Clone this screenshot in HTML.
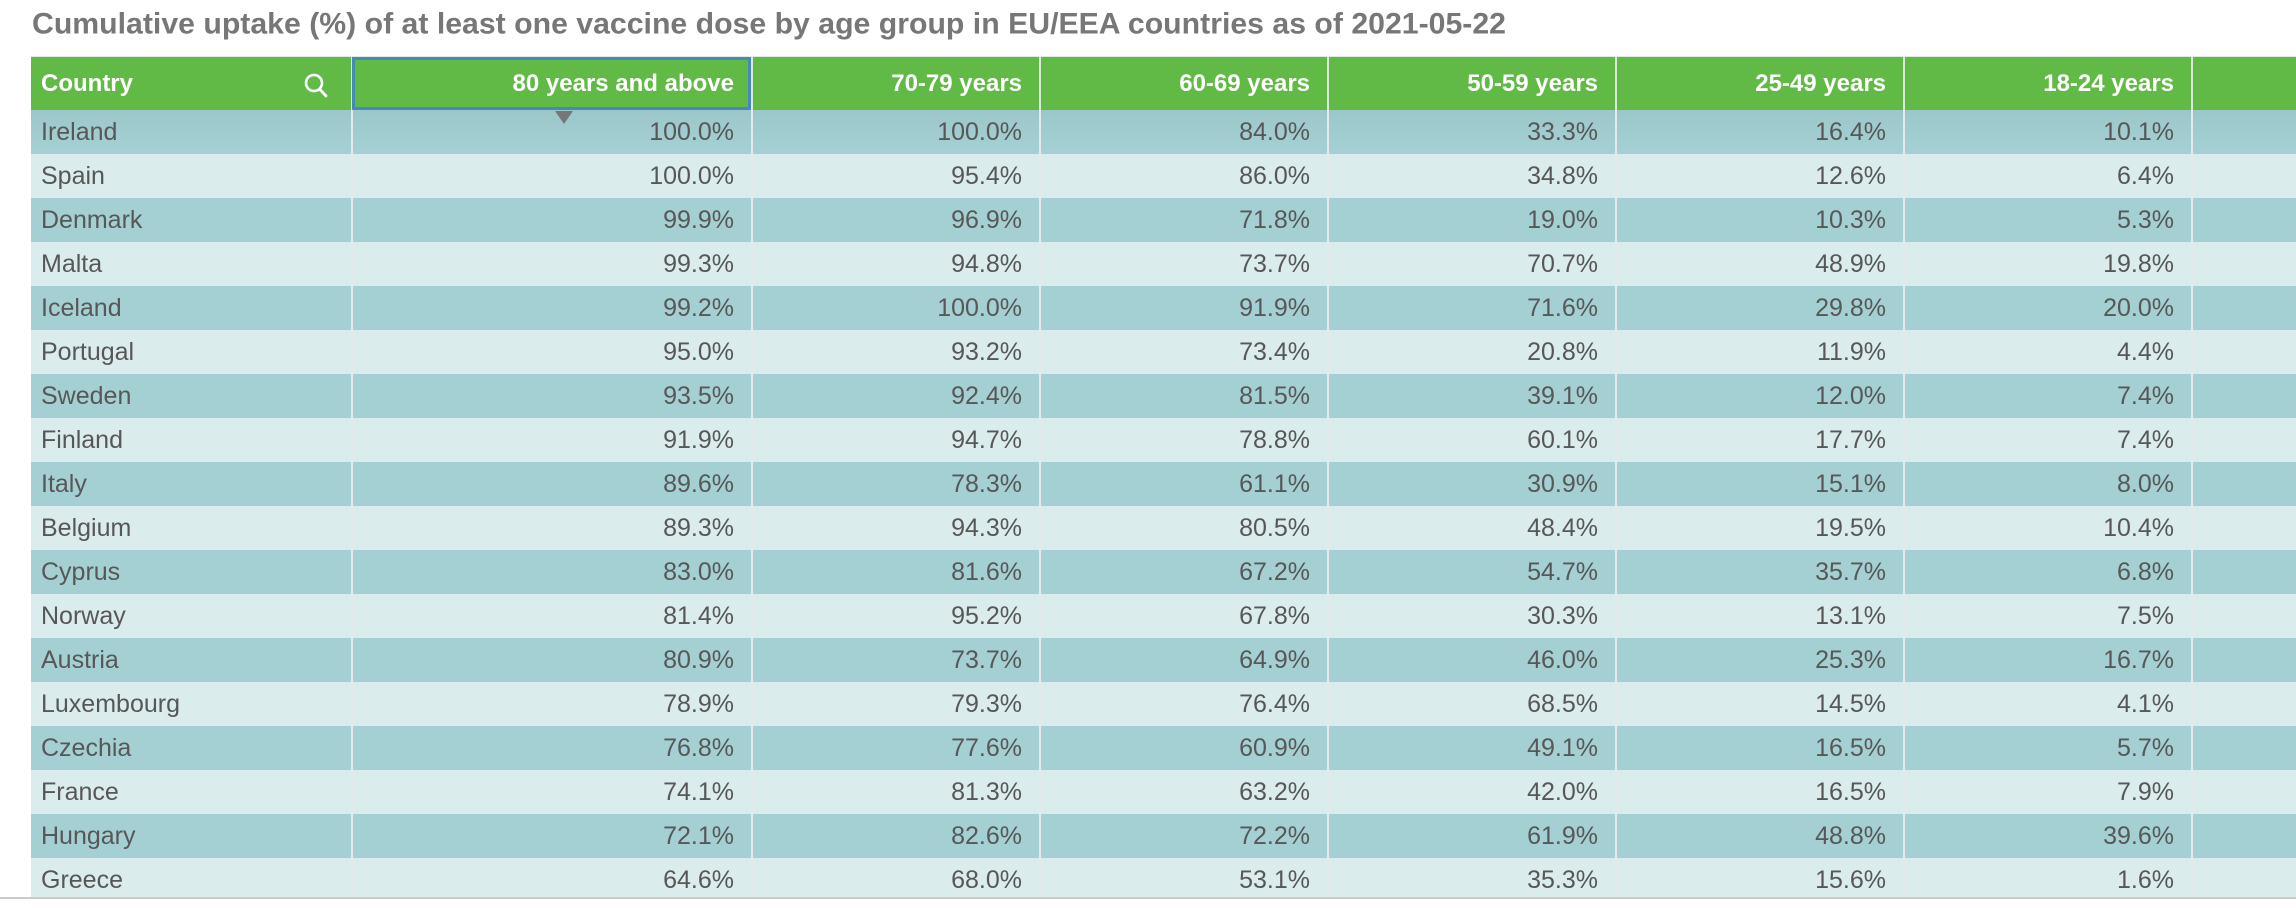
<!DOCTYPE html>
<html>
<head>
<meta charset="utf-8">
<style>
  html,body{margin:0;padding:0;background:#fff;}
  body{width:2296px;height:908px;position:relative;overflow:hidden;font-family:"Liberation Sans",Arial,sans-serif;}
  .title{position:absolute;left:0;top:0;}
  .wrap{position:absolute;left:31px;top:56px;width:2265px;height:841px;overflow:hidden;border-top:1px solid #e6e6e6;}
  .row{display:flex;height:44px;}
  .row > div{box-sizing:border-box;height:100%;border-left:2px solid #e4eaea;text-align:right;padding-right:17px;white-space:nowrap;overflow:hidden;}
  .row > div:first-child{border-left:none;text-align:left;padding-left:10px;padding-right:0;}
  .c0{width:320px;flex:none;}
  .c1{width:400px;flex:none;}
  .c2{width:288px;flex:none;}
  .c7{width:200px;flex:none;}
  .hdr{height:53px;background:#62ba46;color:#fff;font-weight:bold;font-size:24px;line-height:53px;}
  .hdr > div{border-left-color:#dfe6df;}
  .d{font-size:25px;line-height:44px;color:#575757;}
  .dk{background:#a4d0d3;}
  .lt{background:#daecec;}
  .first{background:linear-gradient(#9cc7ca,#a5d1d4);}
  .sel{position:absolute;left:352px;top:57px;width:393px;height:47px;border:3px solid #4489b8;}
  .tri{position:absolute;left:555px;top:111px;width:0;height:0;border-left:9px solid transparent;border-right:9px solid transparent;border-top:13px solid #777;}
  .bottom{position:absolute;left:0;top:897px;width:2296px;height:2px;background:#cbcbcb;}
</style>
</head>
<body>
<svg class="title" width="2296" height="50">
  <text x="32" y="33.5" font-family="Liberation Sans, Arial, sans-serif" font-weight="bold" font-size="30" fill="#777777" textLength="1474" lengthAdjust="spacingAndGlyphs">Cumulative uptake (%) of at least one vaccine dose by age group in EU/EEA countries as of 2021-05-22</text>
</svg>
<div class="wrap">
  <div class="row hdr"><div class="c0">Country</div><div class="c1">80 years and above</div><div class="c2">70-79 years</div><div class="c2">60-69 years</div><div class="c2">50-59 years</div><div class="c2">25-49 years</div><div class="c2">18-24 years</div><div class="c7"></div></div>
  <div class="row d dk first"><div class="c0">Ireland</div><div class="c1">100.0%</div><div class="c2">100.0%</div><div class="c2">84.0%</div><div class="c2">33.3%</div><div class="c2">16.4%</div><div class="c2">10.1%</div><div class="c7"></div></div>
  <div class="row d lt"><div class="c0">Spain</div><div class="c1">100.0%</div><div class="c2">95.4%</div><div class="c2">86.0%</div><div class="c2">34.8%</div><div class="c2">12.6%</div><div class="c2">6.4%</div><div class="c7"></div></div>
  <div class="row d dk"><div class="c0">Denmark</div><div class="c1">99.9%</div><div class="c2">96.9%</div><div class="c2">71.8%</div><div class="c2">19.0%</div><div class="c2">10.3%</div><div class="c2">5.3%</div><div class="c7"></div></div>
  <div class="row d lt"><div class="c0">Malta</div><div class="c1">99.3%</div><div class="c2">94.8%</div><div class="c2">73.7%</div><div class="c2">70.7%</div><div class="c2">48.9%</div><div class="c2">19.8%</div><div class="c7"></div></div>
  <div class="row d dk"><div class="c0">Iceland</div><div class="c1">99.2%</div><div class="c2">100.0%</div><div class="c2">91.9%</div><div class="c2">71.6%</div><div class="c2">29.8%</div><div class="c2">20.0%</div><div class="c7"></div></div>
  <div class="row d lt"><div class="c0">Portugal</div><div class="c1">95.0%</div><div class="c2">93.2%</div><div class="c2">73.4%</div><div class="c2">20.8%</div><div class="c2">11.9%</div><div class="c2">4.4%</div><div class="c7"></div></div>
  <div class="row d dk"><div class="c0">Sweden</div><div class="c1">93.5%</div><div class="c2">92.4%</div><div class="c2">81.5%</div><div class="c2">39.1%</div><div class="c2">12.0%</div><div class="c2">7.4%</div><div class="c7"></div></div>
  <div class="row d lt"><div class="c0">Finland</div><div class="c1">91.9%</div><div class="c2">94.7%</div><div class="c2">78.8%</div><div class="c2">60.1%</div><div class="c2">17.7%</div><div class="c2">7.4%</div><div class="c7"></div></div>
  <div class="row d dk"><div class="c0">Italy</div><div class="c1">89.6%</div><div class="c2">78.3%</div><div class="c2">61.1%</div><div class="c2">30.9%</div><div class="c2">15.1%</div><div class="c2">8.0%</div><div class="c7"></div></div>
  <div class="row d lt"><div class="c0">Belgium</div><div class="c1">89.3%</div><div class="c2">94.3%</div><div class="c2">80.5%</div><div class="c2">48.4%</div><div class="c2">19.5%</div><div class="c2">10.4%</div><div class="c7"></div></div>
  <div class="row d dk"><div class="c0">Cyprus</div><div class="c1">83.0%</div><div class="c2">81.6%</div><div class="c2">67.2%</div><div class="c2">54.7%</div><div class="c2">35.7%</div><div class="c2">6.8%</div><div class="c7"></div></div>
  <div class="row d lt"><div class="c0">Norway</div><div class="c1">81.4%</div><div class="c2">95.2%</div><div class="c2">67.8%</div><div class="c2">30.3%</div><div class="c2">13.1%</div><div class="c2">7.5%</div><div class="c7"></div></div>
  <div class="row d dk"><div class="c0">Austria</div><div class="c1">80.9%</div><div class="c2">73.7%</div><div class="c2">64.9%</div><div class="c2">46.0%</div><div class="c2">25.3%</div><div class="c2">16.7%</div><div class="c7"></div></div>
  <div class="row d lt"><div class="c0">Luxembourg</div><div class="c1">78.9%</div><div class="c2">79.3%</div><div class="c2">76.4%</div><div class="c2">68.5%</div><div class="c2">14.5%</div><div class="c2">4.1%</div><div class="c7"></div></div>
  <div class="row d dk"><div class="c0">Czechia</div><div class="c1">76.8%</div><div class="c2">77.6%</div><div class="c2">60.9%</div><div class="c2">49.1%</div><div class="c2">16.5%</div><div class="c2">5.7%</div><div class="c7"></div></div>
  <div class="row d lt"><div class="c0">France</div><div class="c1">74.1%</div><div class="c2">81.3%</div><div class="c2">63.2%</div><div class="c2">42.0%</div><div class="c2">16.5%</div><div class="c2">7.9%</div><div class="c7"></div></div>
  <div class="row d dk"><div class="c0">Hungary</div><div class="c1">72.1%</div><div class="c2">82.6%</div><div class="c2">72.2%</div><div class="c2">61.9%</div><div class="c2">48.8%</div><div class="c2">39.6%</div><div class="c7"></div></div>
  <div class="row d lt"><div class="c0">Greece</div><div class="c1">64.6%</div><div class="c2">68.0%</div><div class="c2">53.1%</div><div class="c2">35.3%</div><div class="c2">15.6%</div><div class="c2">1.6%</div><div class="c7"></div></div>
</div>
<div class="sel"></div>
<div class="tri"></div>
<svg style="position:absolute;left:300px;top:70px" width="40" height="35">
  <circle cx="14" cy="13" r="8" fill="none" stroke="#fff" stroke-width="2.6"/>
  <line x1="19.5" y1="19" x2="26" y2="26" stroke="#fff" stroke-width="2.8" stroke-linecap="round"/>
</svg>
<div class="bottom"></div>
</body>
</html>
